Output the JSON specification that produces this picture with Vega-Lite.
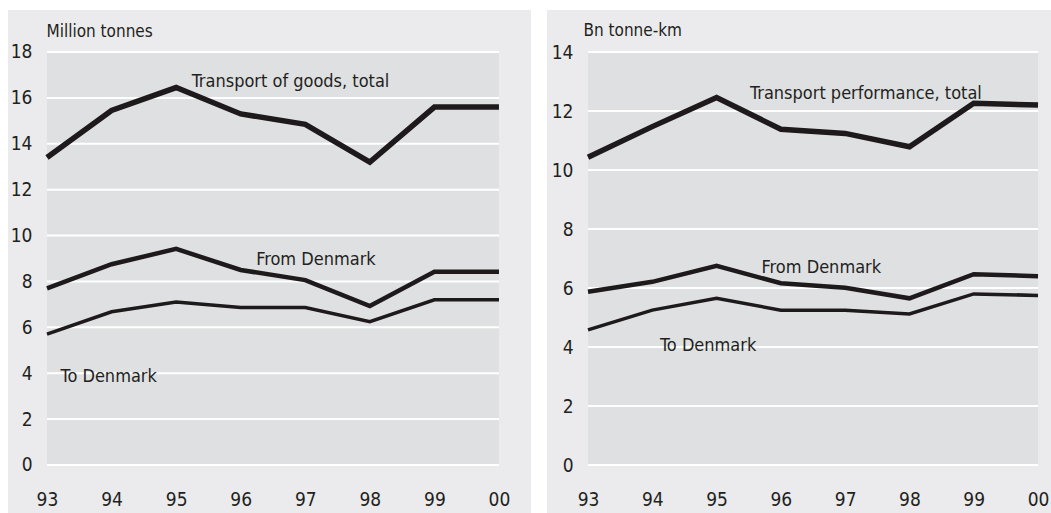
{
  "$schema": "https://vega.github.io/schema/vega-lite/v6.json",
  "background": "white",
  "padding": {"left": 8, "top": 10, "right": 0, "bottom": 0},
  "autosize": {"type": "pad"},
  "spacing": 16,
  "config": {
    "view": {"stroke": null, "fill": "#ebebed"},
    "font": "Liberation Sans Narrow, Arial Narrow, DejaVu Sans Condensed, sans-serif",
    "axis": {
      "grid": false, "domain": false, "ticks": false, "tickSize": 0,
      "labelFontSize": 19, "labelColor": "#231f20",
      "labelFont": "Liberation Sans Narrow, Arial Narrow, DejaVu Sans Condensed, sans-serif",
      "titleFont": "Liberation Sans Narrow, Arial Narrow, DejaVu Sans Condensed, sans-serif",
      "titleFontSize": 17, "titleColor": "#231f20", "titleFontWeight": "normal"
    },
    "text": {"font": "Liberation Sans Narrow, Arial Narrow, DejaVu Sans Condensed, sans-serif", "fontSize": 18, "color": "#231f20"}
  },
  "hconcat": [
    {
      "width": 523,
      "height": 503,
      "layer": [
        {
          "data": {"values": [{}]},
          "mark": {"type": "rect", "fill": "#dfe0e2"},
          "encoding": {
            "x": {"datum": 1993, "type": "quantitative", "scale": {"domain": [1992.396, 2000.496], "nice": false, "zero": false},
                  "axis": {"values": [1993, 1994, 1995, 1996, 1997, 1998, 1999, 2000], "labelExpr": "substring(toString(datum.value), 2)", "title": null, "offset": -23, "labelPadding": 0, "labelFlush": false, "labelOverlap": false}},
            "x2": {"datum": 2000},
            "y": {"datum": 0, "type": "quantitative", "scale": {"domain": [-2.092, 19.83], "nice": false, "zero": false},
                  "axis": {"values": [0, 2, 4, 6, 8, 10, 12, 14, 16, 18], "title": "Million tonnes", "titleAngle": 0, "titleAlign": "left", "titleBaseline": "alphabetic", "titleX": 14, "titleY": 26, "offset": -24, "labelPadding": 0}},
            "y2": {"datum": 18}
          }
        },
        {
          "data": {"values": [{"g": 0}, {"g": 2}, {"g": 4}, {"g": 6}, {"g": 8}, {"g": 10}, {"g": 12}, {"g": 14}, {"g": 16}, {"g": 18}]},
          "mark": {"type": "rule", "stroke": "white", "strokeWidth": 2},
          "encoding": {
            "x": {"datum": 1993, "type": "quantitative", "scale": {"domain": [1992.396, 2000.496], "nice": false, "zero": false},
                  "axis": {"values": [1993, 1994, 1995, 1996, 1997, 1998, 1999, 2000], "labelExpr": "substring(toString(datum.value), 2)", "title": null, "offset": -23, "labelPadding": 0, "labelFlush": false, "labelOverlap": false}},
            "x2": {"datum": 2000},
            "y": {"field": "g", "type": "quantitative", "scale": {"domain": [-2.092, 19.83], "nice": false, "zero": false},
                  "axis": {"values": [0, 2, 4, 6, 8, 10, 12, 14, 16, 18], "title": "Million tonnes", "titleAngle": 0, "titleAlign": "left", "titleBaseline": "alphabetic", "titleX": 14, "titleY": 26, "offset": -24, "labelPadding": 0}}
          }
        },
        {
          "data": {"values": [
            {"year": 1993, "series": "total", "value": 13.4},
            {"year": 1994, "series": "total", "value": 15.45},
            {"year": 1995, "series": "total", "value": 16.45},
            {"year": 1996, "series": "total", "value": 15.3},
            {"year": 1997, "series": "total", "value": 14.85},
            {"year": 1998, "series": "total", "value": 13.2},
            {"year": 1999, "series": "total", "value": 15.6},
            {"year": 2000, "series": "total", "value": 15.6},
            {"year": 1993, "series": "from", "value": 7.7},
            {"year": 1994, "series": "from", "value": 8.75},
            {"year": 1995, "series": "from", "value": 9.42},
            {"year": 1996, "series": "from", "value": 8.5},
            {"year": 1997, "series": "from", "value": 8.06},
            {"year": 1998, "series": "from", "value": 6.93},
            {"year": 1999, "series": "from", "value": 8.42},
            {"year": 2000, "series": "from", "value": 8.42},
            {"year": 1993, "series": "to", "value": 5.7},
            {"year": 1994, "series": "to", "value": 6.68},
            {"year": 1995, "series": "to", "value": 7.1},
            {"year": 1996, "series": "to", "value": 6.86},
            {"year": 1997, "series": "to", "value": 6.86},
            {"year": 1998, "series": "to", "value": 6.25},
            {"year": 1999, "series": "to", "value": 7.2},
            {"year": 2000, "series": "to", "value": 7.2}
          ]},
          "mark": {"type": "line", "stroke": "#1e1a1b"},
          "encoding": {
            "x": {"field": "year", "type": "quantitative", "scale": {"domain": [1992.396, 2000.496], "nice": false, "zero": false},
                  "axis": {"values": [1993, 1994, 1995, 1996, 1997, 1998, 1999, 2000], "labelExpr": "substring(toString(datum.value), 2)", "title": null, "offset": -23, "labelPadding": 0, "labelFlush": false, "labelOverlap": false}},
            "y": {"field": "value", "type": "quantitative", "scale": {"domain": [-2.092, 19.83], "nice": false, "zero": false},
                  "axis": {"values": [0, 2, 4, 6, 8, 10, 12, 14, 16, 18], "title": "Million tonnes", "titleAngle": 0, "titleAlign": "left", "titleBaseline": "alphabetic", "titleX": 14, "titleY": 26, "offset": -24, "labelPadding": 0}},
            "detail": {"field": "series", "type": "nominal"},
            "strokeWidth": {"field": "series", "type": "nominal", "scale": {"domain": ["total", "from", "to"], "range": [5.5, 3.5, 3.5]}, "legend": null}
          }
        },
        {
          "data": {"values": [
            {"label": "Transport of goods, total", "x": 1995.24, "y": 16.49},
            {"label": "From Denmark", "x": 1996.24, "y": 8.72},
            {"label": "To Denmark", "x": 1993.21, "y": 3.63}
          ]},
          "mark": {"type": "text", "align": "left", "baseline": "alphabetic"},
          "encoding": {
            "x": {"field": "x", "type": "quantitative", "scale": {"domain": [1992.396, 2000.496], "nice": false, "zero": false},
                  "axis": {"values": [1993, 1994, 1995, 1996, 1997, 1998, 1999, 2000], "labelExpr": "substring(toString(datum.value), 2)", "title": null, "offset": -23, "labelPadding": 0, "labelFlush": false, "labelOverlap": false}},
            "y": {"field": "y", "type": "quantitative", "scale": {"domain": [-2.092, 19.83], "nice": false, "zero": false},
                  "axis": {"values": [0, 2, 4, 6, 8, 10, 12, 14, 16, 18], "title": "Million tonnes", "titleAngle": 0, "titleAlign": "left", "titleBaseline": "alphabetic", "titleX": 14, "titleY": 26, "offset": -24, "labelPadding": 0}},
            "text": {"field": "label"}
          }
        }
      ]
    },
    {
      "width": 504,
      "height": 503,
      "layer": [
        {
          "data": {"values": [{}]},
          "mark": {"type": "rect", "fill": "#dfe0e2"},
          "encoding": {
            "x": {"datum": 1993, "type": "quantitative", "scale": {"domain": [1992.362, 2000.202], "nice": false, "zero": false},
                  "axis": {"values": [1993, 1994, 1995, 1996, 1997, 1998, 1999, 2000], "labelExpr": "substring(toString(datum.value), 2)", "title": null, "offset": -23, "labelPadding": 0, "labelFlush": false, "labelOverlap": false}},
            "x2": {"datum": 2000},
            "y": {"datum": 0, "type": "quantitative", "scale": {"domain": [-1.627, 15.424], "nice": false, "zero": false},
                  "axis": {"values": [0, 2, 4, 6, 8, 10, 12, 14], "title": "Bn tonne-km", "titleAngle": 0, "titleAlign": "left", "titleBaseline": "alphabetic", "titleX": 10, "titleY": 25, "offset": -26, "labelPadding": 0}},
            "y2": {"datum": 14}
          }
        },
        {
          "data": {"values": [{"g": 0}, {"g": 2}, {"g": 4}, {"g": 6}, {"g": 8}, {"g": 10}, {"g": 12}, {"g": 14}]},
          "mark": {"type": "rule", "stroke": "white", "strokeWidth": 2},
          "encoding": {
            "x": {"datum": 1993, "type": "quantitative", "scale": {"domain": [1992.362, 2000.202], "nice": false, "zero": false},
                  "axis": {"values": [1993, 1994, 1995, 1996, 1997, 1998, 1999, 2000], "labelExpr": "substring(toString(datum.value), 2)", "title": null, "offset": -23, "labelPadding": 0, "labelFlush": false, "labelOverlap": false}},
            "x2": {"datum": 2000},
            "y": {"field": "g", "type": "quantitative", "scale": {"domain": [-1.627, 15.424], "nice": false, "zero": false},
                  "axis": {"values": [0, 2, 4, 6, 8, 10, 12, 14], "title": "Bn tonne-km", "titleAngle": 0, "titleAlign": "left", "titleBaseline": "alphabetic", "titleX": 10, "titleY": 25, "offset": -26, "labelPadding": 0}}
          }
        },
        {
          "data": {"values": [
            {"year": 1993, "series": "total", "value": 10.43},
            {"year": 1994, "series": "total", "value": 11.47},
            {"year": 1995, "series": "total", "value": 12.46},
            {"year": 1996, "series": "total", "value": 11.38},
            {"year": 1997, "series": "total", "value": 11.24},
            {"year": 1998, "series": "total", "value": 10.79},
            {"year": 1999, "series": "total", "value": 12.26},
            {"year": 2000, "series": "total", "value": 12.2},
            {"year": 1993, "series": "from", "value": 5.87},
            {"year": 1994, "series": "from", "value": 6.21},
            {"year": 1995, "series": "from", "value": 6.75},
            {"year": 1996, "series": "from", "value": 6.16},
            {"year": 1997, "series": "from", "value": 6.01},
            {"year": 1998, "series": "from", "value": 5.65},
            {"year": 1999, "series": "from", "value": 6.47},
            {"year": 2000, "series": "from", "value": 6.4},
            {"year": 1993, "series": "to", "value": 4.58},
            {"year": 1994, "series": "to", "value": 5.25},
            {"year": 1995, "series": "to", "value": 5.65},
            {"year": 1996, "series": "to", "value": 5.25},
            {"year": 1997, "series": "to", "value": 5.25},
            {"year": 1998, "series": "to", "value": 5.12},
            {"year": 1999, "series": "to", "value": 5.8},
            {"year": 2000, "series": "to", "value": 5.75}
          ]},
          "mark": {"type": "line", "stroke": "#1e1a1b"},
          "encoding": {
            "x": {"field": "year", "type": "quantitative", "scale": {"domain": [1992.362, 2000.202], "nice": false, "zero": false},
                  "axis": {"values": [1993, 1994, 1995, 1996, 1997, 1998, 1999, 2000], "labelExpr": "substring(toString(datum.value), 2)", "title": null, "offset": -23, "labelPadding": 0, "labelFlush": false, "labelOverlap": false}},
            "y": {"field": "value", "type": "quantitative", "scale": {"domain": [-1.627, 15.424], "nice": false, "zero": false},
                  "axis": {"values": [0, 2, 4, 6, 8, 10, 12, 14], "title": "Bn tonne-km", "titleAngle": 0, "titleAlign": "left", "titleBaseline": "alphabetic", "titleX": 10, "titleY": 25, "offset": -26, "labelPadding": 0}},
            "detail": {"field": "series", "type": "nominal"},
            "strokeWidth": {"field": "series", "type": "nominal", "scale": {"domain": ["total", "from", "to"], "range": [5.5, 3.5, 3.5]}, "legend": null}
          }
        },
        {
          "data": {"values": [
            {"label": "Transport performance, total", "x": 1995.52, "y": 12.4},
            {"label": "From Denmark", "x": 1995.7, "y": 6.51},
            {"label": "To Denmark", "x": 1994.12, "y": 3.87}
          ]},
          "mark": {"type": "text", "align": "left", "baseline": "alphabetic"},
          "encoding": {
            "x": {"field": "x", "type": "quantitative", "scale": {"domain": [1992.362, 2000.202], "nice": false, "zero": false},
                  "axis": {"values": [1993, 1994, 1995, 1996, 1997, 1998, 1999, 2000], "labelExpr": "substring(toString(datum.value), 2)", "title": null, "offset": -23, "labelPadding": 0, "labelFlush": false, "labelOverlap": false}},
            "y": {"field": "y", "type": "quantitative", "scale": {"domain": [-1.627, 15.424], "nice": false, "zero": false},
                  "axis": {"values": [0, 2, 4, 6, 8, 10, 12, 14], "title": "Bn tonne-km", "titleAngle": 0, "titleAlign": "left", "titleBaseline": "alphabetic", "titleX": 10, "titleY": 25, "offset": -26, "labelPadding": 0}},
            "text": {"field": "label"}
          }
        }
      ]
    }
  ]
}
